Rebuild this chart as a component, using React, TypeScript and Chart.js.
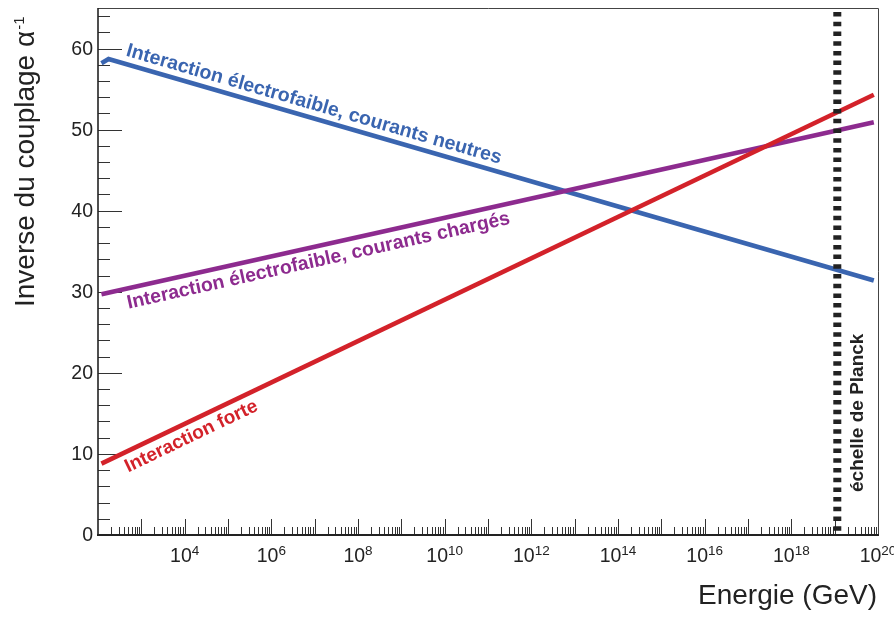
import React, { useEffect, useRef } from "react";
import { Chart, registerables } from "chart.js";

Chart.register(...registerables);

// ---- Data (energies in GeV, inverse coupling values) ----
const neutralEnergy = [1.2e2, 1.75e2, 8e19];
const neutralInverse = [58.2, 58.7, 31.4];
const chargedEnergy = [1.2e2, 8e19];
const chargedInverse = [29.7, 50.9];
const strongEnergy = [1.2e2, 8e19];
const strongInverse = [8.8, 54.3];
const planckEnergy = [1.15e19, 1.15e19];
const planckInverse = [0, 65];

const seriesLabels = [
  "Interaction électrofaible, courants neutres",
  "Interaction électrofaible, courants chargés",
  "Interaction forte",
];
const planckLabel = "échelle de Planck";
const xTitle = "Energie (GeV)";
const yTitle = "Inverse du couplage α";
const yTitleSup = "-1";

const xMin = 1e2;
const xMax = 1e20;
const yMin = 0;
const yMax = 65;
const xLabelExponents = [4, 6, 8, 10, 12, 14, 16, 18, 20];
const yLabelValues = [0, 10, 20, 30, 40, 50, 60];

const BLUE = "#3a65b0";
const PURPLE = "#8d2b8f";
const RED = "#d3222a";
const DARK = "#222222";
const FONT = '"Liberation Sans", Arial, Helvetica, sans-serif';

const pts = (xs: number[], ys: number[]) => xs.map((x, i) => ({ x, y: ys[i] }));

function drawAlongLine(
  chart: any,
  xs: number[],
  ys: number[],
  anchorE: number,
  offset: number,
  text: string,
  targetWidth: number,
  color: string
) {
  const { ctx, scales } = chart;
  const sx = scales.x;
  const sy = scales.y;
  const n = xs.length;
  const x1 = sx.getPixelForValue(xs[n - 2]);
  const y1 = sy.getPixelForValue(ys[n - 2]);
  const x2 = sx.getPixelForValue(xs[n - 1]);
  const y2 = sy.getPixelForValue(ys[n - 1]);
  const ang = Math.atan2(y2 - y1, x2 - x1);
  const ax = sx.getPixelForValue(anchorE);
  const ay = y1 + ((ax - x1) * (y2 - y1)) / (x2 - x1);
  const bx = ax - Math.sin(ang) * offset;
  const by = ay + Math.cos(ang) * offset;
  ctx.save();
  ctx.font = `bold 100px ${FONT}`;
  const w100 = ctx.measureText(text).width;
  const size = (100 * targetWidth) / w100;
  ctx.font = `bold ${size.toFixed(2)}px ${FONT}`;
  ctx.fillStyle = color;
  ctx.textAlign = "left";
  ctx.textBaseline = "alphabetic";
  ctx.translate(bx, by);
  ctx.rotate(ang);
  ctx.fillText(text, 0, 0);
  ctx.restore();
}

const decorPlugin = {
  id: "decor",
  beforeDatasetsDraw(chart: any) {
    const { ctx, chartArea: a, scales } = chart;
    const sx = scales.x;
    const sy = scales.y;
    ctx.save();
    ctx.strokeStyle = "#333";
    ctx.lineWidth = 1;
    ctx.beginPath();
    // x ticks (inward)
    for (let e = 2; e < 20; e++) {
      for (let m = 1; m <= 9; m++) {
        if (m === 1 && e === 2) continue;
        const px = Math.round(sx.getPixelForValue(m * Math.pow(10, e))) + 0.5;
        const len = m === 1 ? 16 : 8;
        ctx.moveTo(px, a.bottom);
        ctx.lineTo(px, a.bottom - len);
      }
    }
    // y ticks (inward)
    for (let v = 2; v <= 64; v += 2) {
      const py = Math.round(sy.getPixelForValue(v)) + 0.5;
      const len = v % 10 === 0 ? 24 : 12;
      ctx.moveTo(a.left, py);
      ctx.lineTo(a.left + len, py);
    }
    ctx.stroke();

    // frame
    ctx.strokeStyle = "#444";
    ctx.lineWidth = 1;
    ctx.beginPath();
    ctx.moveTo(a.left, a.top + 0.5);
    ctx.lineTo(a.right + 0.5, a.top + 0.5);
    ctx.lineTo(a.right + 0.5, a.bottom);
    ctx.stroke();
    ctx.strokeStyle = DARK;
    ctx.lineWidth = 1.6;
    ctx.beginPath();
    ctx.moveTo(a.left, a.top);
    ctx.lineTo(a.left, a.bottom);
    ctx.stroke();
    ctx.lineWidth = 2;
    ctx.beginPath();
    ctx.moveTo(a.left - 1, a.bottom);
    ctx.lineTo(a.right + 1, a.bottom);
    ctx.stroke();

    // y tick labels
    ctx.fillStyle = DARK;
    ctx.font = `19.5px ${FONT}`;
    ctx.textAlign = "right";
    ctx.textBaseline = "middle";
    yLabelValues.forEach((v) => {
      ctx.fillText(String(v), 93, sy.getPixelForValue(v) + 1);
    });

    // x tick labels 10^n
    ctx.textAlign = "left";
    ctx.textBaseline = "alphabetic";
    xLabelExponents.forEach((e) => {
      const px = sx.getPixelForValue(Math.pow(10, e));
      ctx.font = `19.5px ${FONT}`;
      const w1 = ctx.measureText("10").width;
      ctx.font = `13.5px ${FONT}`;
      const w2 = ctx.measureText(String(e)).width;
      const start = px - (w1 + w2) / 2;
      ctx.font = `19.5px ${FONT}`;
      ctx.fillText("10", start, 562);
      ctx.font = `13.5px ${FONT}`;
      ctx.fillText(String(e), start + w1, 555);
    });

    // axis titles
    ctx.font = `28px ${FONT}`;
    ctx.textAlign = "right";
    ctx.fillText(xTitle, 877, 604);

    ctx.save();
    ctx.translate(34, 307);
    ctx.rotate(-Math.PI / 2);
    ctx.textAlign = "left";
    ctx.font = `28px ${FONT}`;
    ctx.fillText(yTitle, 0, 0);
    const tw = ctx.measureText(yTitle).width;
    ctx.font = `15px ${FONT}`;
    ctx.fillText(yTitleSup, tw + 1, -10);
    ctx.restore();

    ctx.restore();
  },
  afterDatasetsDraw(chart: any) {
    drawAlongLine(chart, neutralEnergy, neutralInverse, 3.8e2, -8, seriesLabels[0], 390, BLUE);
    drawAlongLine(chart, chargedEnergy, chargedInverse, 4.0e2, 20, seriesLabels[1], 392, PURPLE);
    drawAlongLine(chart, strongEnergy, strongInverse, 3.2e2, 19.5, seriesLabels[2], 145, RED);

    const { ctx } = chart;
    ctx.save();
    ctx.fillStyle = DARK;
    ctx.font = `bold 19px ${FONT}`;
    ctx.textAlign = "left";
    ctx.textBaseline = "alphabetic";
    ctx.translate(863, 492);
    ctx.rotate(-Math.PI / 2);
    ctx.fillText(planckLabel, 0, 0);
    ctx.restore();
  },
};

export default function App() {
  const ref = useRef<HTMLCanvasElement | null>(null);

  useEffect(() => {
    if (!ref.current) return;
    const chart = new Chart(ref.current, {
      type: "line",
      data: {
        datasets: [
          {
            label: "Planck",
            data: pts(planckEnergy, planckInverse),
            borderColor: DARK,
            borderWidth: 8,
            borderDash: [4.5, 5.2],
            borderDashOffset: 5.4,
            pointRadius: 0,
            order: 0,
          },
          {
            label: seriesLabels[2],
            data: pts(strongEnergy, strongInverse),
            borderColor: RED,
            borderWidth: 4.6,
            pointRadius: 0,
            order: 1,
          },
          {
            label: seriesLabels[1],
            data: pts(chargedEnergy, chargedInverse),
            borderColor: PURPLE,
            borderWidth: 4.6,
            pointRadius: 0,
            order: 2,
          },
          {
            label: seriesLabels[0],
            data: pts(neutralEnergy, neutralInverse),
            borderColor: BLUE,
            borderWidth: 4.6,
            pointRadius: 0,
            order: 3,
          },
        ],
      },
      options: {
        responsive: false,
        animation: false,
        parsing: true,
        layout: { padding: { left: 98, top: 8, right: 16, bottom: 82 } },
        plugins: { legend: { display: false }, tooltip: { enabled: false } },
        elements: { line: { tension: 0, borderCapStyle: "butt" } },
        scales: {
          x: { type: "logarithmic", min: xMin, max: xMax, display: false },
          y: { type: "linear", min: yMin, max: yMax, display: false },
        },
      },
      plugins: [decorPlugin],
    } as any);
    return () => chart.destroy();
  }, []);

  return (
    <div
      style={{
        position: "fixed",
        left: 0,
        top: 0,
        width: 894,
        height: 617,
        background: "#ffffff",
      }}
    >
      <canvas ref={ref} width={894} height={617} style={{ width: 894, height: 617 }} />
    </div>
  );
}
